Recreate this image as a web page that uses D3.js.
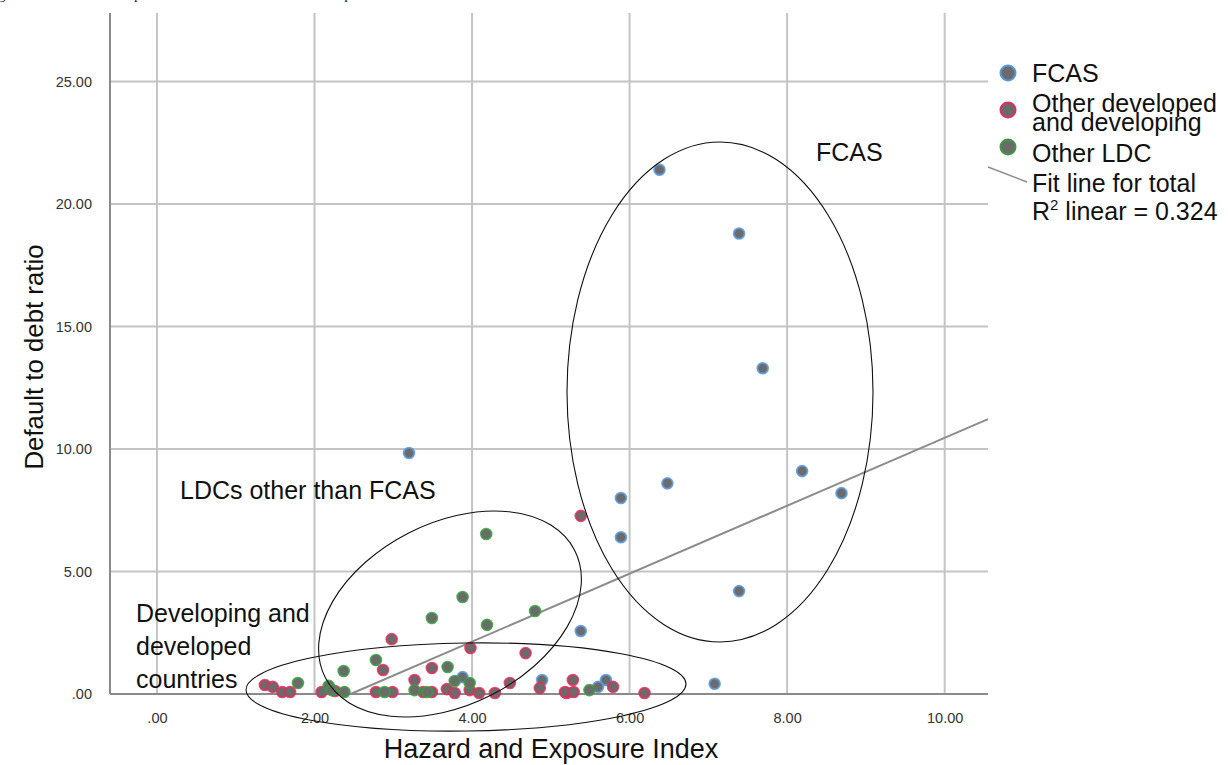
<!DOCTYPE html>
<html>
<head>
<meta charset="utf-8">
<script src="https://cdn.jsdelivr.net/npm/d3@7"></script>
<style>
  body { margin: 0; background: #fff; }
  svg { display: block; }
  text { font-family: "Liberation Sans", Arial, Helvetica, sans-serif; }
</style>
</head>
<body>
<div id="chart"></div>
<script>
// data
const fcasPoints = [
  [3.20, 9.84], [6.38, 21.4], [7.39, 18.8], [7.69, 13.3], [8.19, 9.1], [8.69, 8.2],
  [6.48, 8.6], [5.89, 8.0], [5.89, 6.4], [7.39, 4.2], [5.38, 2.57], [7.08, 0.42],
  [3.88, 0.69], [4.89, 0.57], [5.70, 0.57], [5.60, 0.29]
];
const otherDevPoints = [
  [5.38, 7.27], [2.98, 2.24], [2.87, 0.98], [1.37, 0.37], [1.47, 0.29], [1.59, 0.08],
  [1.69, 0.08], [2.09, 0.08], [2.26, 0.12], [2.78, 0.08], [2.99, 0.08], [3.27, 0.57],
  [3.49, 1.06], [3.98, 1.88], [4.68, 1.67], [4.48, 0.45], [4.86, 0.24], [3.68, 0.20],
  [3.78, 0.04], [3.49, 0.08], [3.38, 0.08], [3.97, 0.16], [4.09, 0.04], [4.29, 0.04],
  [5.20, 0.04], [5.28, 0.57], [5.18, 0.08], [5.29, 0.08], [5.79, 0.29], [6.19, 0.04]
];
const otherLdcPoints = [
  [4.18, 6.53], [3.88, 3.96], [4.80, 3.39], [3.49, 3.10], [4.19, 2.82], [2.78, 1.39],
  [2.37, 0.94], [1.79, 0.45], [2.18, 0.33], [2.22, 0.16], [2.38, 0.08], [2.89, 0.08],
  [3.69, 1.10], [3.78, 0.53], [3.97, 0.45], [3.27, 0.16], [3.43, 0.08], [5.49, 0.16]
];
const xTicks = [0, 2, 4, 6, 8, 10];
const yTicks = [0, 5, 10, 15, 20, 25];
const fitSlope = 1.387;
const fitIntercept = -3.41;
const rSquared = "0.324";

const seriesNames = ["FCAS", "Other developed|and developing", "Other LDC"];
const seriesStroke = ["#5b96d8", "#dc2f5c", "#3d9943"];

const W = 1228, H = 765;
const plot = { left: 110, right: 988, top: 13, bottom: 694 };

const svg = d3.select("#chart").append("svg")
  .attr("width", W)
  .attr("height", H);

// caption of the page, mostly cut off at the top edge
svg.append("text")
  .attr("x", -2)
  .attr("y", -1)
  .style("font-family", "'Liberation Serif', 'Times New Roman', serif")
  .attr("font-size", 15)
  .attr("fill", "#222")
  .text("gure 3: The relationship between INFORM hazard and exposure and default to debt ratio");

const x = d3.scaleLinear().domain([-0.596, 10.55]).range([plot.left, plot.right]);
const y = d3.scaleLinear().domain([0, 27.8]).range([plot.bottom, plot.top]);

// grid
const grid = svg.append("g").attr("stroke", "#c4c4c4").attr("stroke-width", 2);
grid.selectAll(".vg").data(xTicks).enter().append("line")
  .attr("x1", d => x(d)).attr("x2", d => x(d))
  .attr("y1", plot.top).attr("y2", plot.bottom);
grid.selectAll(".hg").data(yTicks.filter(d => d > 0)).enter().append("line")
  .attr("x1", plot.left).attr("x2", plot.right)
  .attr("y1", d => y(d)).attr("y2", d => y(d));

// axes
const fmt = d => d === 0 ? ".00" : d3.format(".2f")(d);
const xAxis = d3.axisBottom(x).tickValues(xTicks).tickSize(0).tickPadding(16).tickFormat(fmt);
const yAxis = d3.axisLeft(y).tickValues(yTicks).tickSize(0).tickPadding(18).tickFormat(fmt);

const gx = svg.append("g").attr("transform", `translate(0,${plot.bottom})`).call(xAxis);
const gy = svg.append("g").attr("transform", `translate(${plot.left},0)`).call(yAxis);
[gx, gy].forEach(g => {
  g.select(".domain").remove();
  g.selectAll("text")
    .attr("font-size", 14.5)
    .attr("fill", "#333")
    .style("font-family", "'Liberation Sans', Arial, sans-serif");
});
gx.selectAll("text").attr("dy", "0.9em");

svg.append("line")
  .attr("x1", plot.left).attr("x2", plot.left)
  .attr("y1", plot.top).attr("y2", plot.bottom)
  .attr("stroke", "#8a8a8a").attr("stroke-width", 2);
svg.append("line")
  .attr("x1", plot.left).attr("x2", plot.right)
  .attr("y1", plot.bottom).attr("y2", plot.bottom)
  .attr("stroke", "#8a8a8a").attr("stroke-width", 2);

// fit line for total
const x0 = -fitIntercept / fitSlope;
const x1 = x.domain()[1];
svg.append("line")
  .attr("x1", x(x0)).attr("y1", y(0))
  .attr("x2", x(x1)).attr("y2", y(fitSlope * x1 + fitIntercept))
  .attr("stroke", "#8c8c8c")
  .attr("stroke-width", 2);

// points
const allSeries = [fcasPoints, otherDevPoints, otherLdcPoints];
allSeries.forEach((pts, i) => {
  svg.append("g").selectAll("circle")
    .data(pts)
    .enter().append("circle")
    .attr("cx", d => x(d[0]))
    .attr("cy", d => y(d[1]))
    .attr("r", 5.3)
    .attr("fill", "#6b6b6b")
    .attr("stroke", seriesStroke[i])
    .attr("stroke-opacity", 0.85)
    .attr("stroke-width", 2);
});

// hand drawn annotation ellipses
const ann = svg.append("g").attr("fill", "none").attr("stroke", "#111").attr("stroke-width", 1.1);
ann.append("ellipse").attr("cx", 720).attr("cy", 392).attr("rx", 153).attr("ry", 250);
ann.append("ellipse").attr("cx", 450).attr("cy", 614).attr("rx", 140).attr("ry", 91)
  .attr("transform", "rotate(-27,450,614)");
ann.append("ellipse").attr("cx", 466).attr("cy", 687).attr("rx", 220).attr("ry", 44)
  .attr("transform", "rotate(-0.8,466,687)");

const annText = svg.append("g").attr("font-size", 25).attr("fill", "#111");
annText.append("text").attr("x", 816).attr("y", 161).text("FCAS");
annText.append("text").attr("x", 180).attr("y", 499).text("LDCs other than FCAS");
annText.append("text").attr("x", 136).attr("y", 622).text("Developing and");
annText.append("text").attr("x", 136).attr("y", 655).text("developed");
annText.append("text").attr("x", 136).attr("y", 688).text("countries");

// axis titles
svg.append("text")
  .attr("x", 551).attr("y", 758)
  .attr("text-anchor", "middle")
  .attr("font-size", 27)
  .attr("fill", "#111")
  .text("Hazard and Exposure Index");

svg.append("text")
  .attr("transform", "translate(43,357) rotate(-90)")
  .attr("text-anchor", "middle")
  .attr("font-size", 26)
  .attr("fill", "#111")
  .attr("textLength", 225)
  .attr("lengthAdjust", "spacingAndGlyphs")
  .text("Default to debt ratio");

// legend
const legend = svg.append("g").attr("font-size", 25).attr("fill", "#111");
const legendY = [73, 110, 147];
const labelY = [[82], [112, 131], [162]];
seriesNames.forEach((name, i) => {
  legend.append("circle")
    .attr("cx", 1008).attr("cy", legendY[i]).attr("r", 7.5)
    .attr("fill", "#6b6b6b").attr("stroke", seriesStroke[i]).attr("stroke-width", 2);
  name.split("|").forEach((part, j) => {
    legend.append("text").attr("x", 1032).attr("y", labelY[i][j]).text(part);
  });
});
legend.append("line")
  .attr("x1", 988).attr("y1", 167).attr("x2", 1027).attr("y2", 182)
  .attr("stroke", "#8c8c8c").attr("stroke-width", 1.5);
legend.append("text").attr("x", 1032).attr("y", 192).text("Fit line for total");
const r2 = legend.append("text").attr("x", 1032).attr("y", 220);
r2.append("tspan").text("R");
r2.append("tspan").attr("font-size", 15).attr("dy", -10).text("2");
r2.append("tspan").attr("dy", 10).text(" linear = " + rSquared);
</script>
</body>
</html>
